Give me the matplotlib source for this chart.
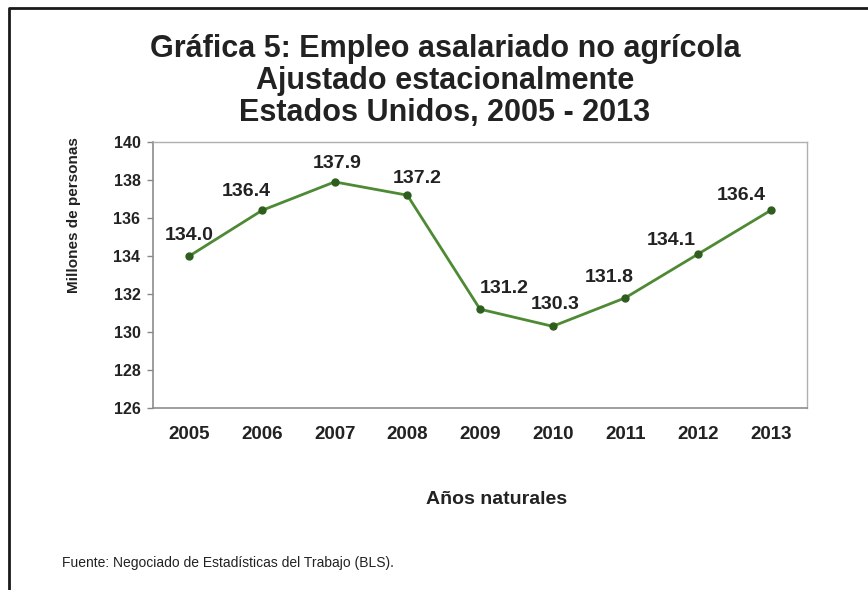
import matplotlib.pyplot as plt
from matplotlib.lines import Line2D

plt.rcParams['font.family'] = ['Liberation Sans', 'DejaVu Sans']

years = ['2005', '2006', '2007', '2008', '2009', '2010', '2011', '2012', '2013']
empleo = [134.0, 136.4, 137.9, 137.2, 131.2, 130.3, 131.8, 134.1, 136.4]
# label offsets (pixels) relative to each point
lbl_dx = [0, -16, 3, 10, 24, 3, -16, -27, -29]
lbl_dy = [20, 19, 18, 17, 21, 22, 20, 14, 15]

txt = '#222222'
fig = plt.figure(figsize=(8.68, 5.90), dpi=100)
ax = fig.add_axes([153/868, 1 - 408/590, (807-153)/868, (408-142)/590])

x = list(range(len(years)))
ax.plot(x, empleo, color='#4E8A34', lw=2, marker='o', markersize=5,
        markerfacecolor='#2E5E1E', markeredgecolor='#2E5E1E')

for i, v in enumerate(empleo):
    ax.annotate(f'{v:.1f}', (i, v), xytext=(lbl_dx[i], lbl_dy[i]),
                textcoords='offset pixels', ha='center', va='center',
                fontsize=14, fontweight='bold', color=txt)

ax.set_xlim(-0.5, len(years) - 0.5)
ax.set_ylim(126, 140)
ax.set_yticks(range(126, 141, 2))
ax.set_xticks(x)
ax.set_xticklabels(years)
ax.tick_params(axis='x', length=0, pad=13, labelsize=13.5, labelcolor=txt)
ax.tick_params(axis='y', length=4, width=1, color='#888888', pad=5, labelsize=11.5, labelcolor=txt)
for lab in ax.get_xticklabels() + ax.get_yticklabels():
    lab.set_fontweight('bold')

for s in ['top', 'right']:
    ax.spines[s].set_color('#B0B0B0')
    ax.spines[s].set_linewidth(1)
for s in ['left', 'bottom']:
    ax.spines[s].set_color('#8C8C8C')
    ax.spines[s].set_linewidth(1.2)

fig.text(74/868, 1 - 215/590, 'Millones de personas', rotation=90, ha='center', va='center',
         fontsize=11, fontweight='bold', color=txt)
fig.text(497/868, 1 - 500/590, 'Años naturales', ha='center', va='center',
         fontsize=14, fontweight='bold', color=txt)

fig.text(445/868, 1 - 81/590,
         'Gráfica 5: Empleo asalariado no agrícola\nAjustado estacionalmente\nEstados Unidos, 2005 - 2013',
         ha='center', va='center', fontsize=22, fontweight='bold', color=txt, linespacing=1.1)

fig.text(62/868, 1 - 563/590, 'Fuente: Negociado de Estadísticas del Trabajo (BLS).',
         ha='left', va='center', fontsize=10, color=txt)

# outer border (top and left)
fig.add_artist(Line2D([9/868, 9/868, 1], [0, 1 - 8/590, 1 - 8/590],
                      transform=fig.transFigure, color='#1a1a1a', lw=2))

fig.savefig('out.png', dpi=100)
